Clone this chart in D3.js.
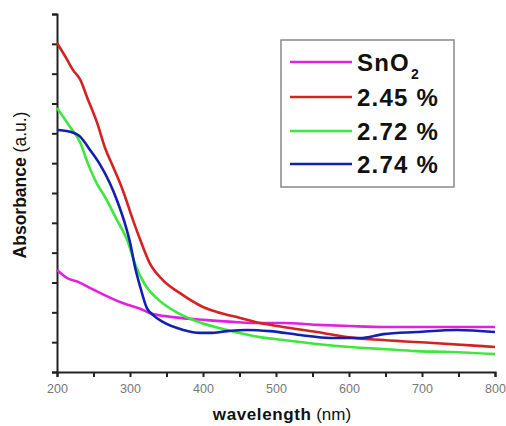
<!DOCTYPE html>
<html><head><meta charset="utf-8">
<script src="https://cdn.jsdelivr.net/npm/d3@7"></script>
<style>body{margin:0;background:#fff;}svg{display:block;}</style>
</head><body>
<svg id="c" width="506" height="426"></svg>
<script>
const seriesNames = ["SnO2", "2.45 %", "2.72 %", "2.74 %"];
const colors = ["#e021e0", "#d42222", "#3ee63e", "#1220b0"];
const xTicks = [200, 300, 400, 500, 600, 700, 800];

const snO2 = [[200,3.42],[214,3.15],[229,3.02],[245,2.82],[259,2.65],[290,2.31],[314,2.12],[327,1.98],[359,1.84],[405,1.74],[441,1.68],[478,1.64],[510,1.64],[556,1.58],[601,1.54],[647,1.51],[738,1.51],[800,1.51]];
const s245 = [[200,11.03],[212,10.55],[222,10.12],[232,9.79],[241,9.22],[255,8.35],[266,7.5],[277,6.87],[290,6.1],[304,5.1],[314,4.43],[327,3.65],[345,3.08],[368,2.65],[400,2.18],[419,2.01],[451,1.81],[478,1.64],[510,1.51],[556,1.34],[597,1.17],[647,1.07],[715,0.97],[800,0.84]];
const s272 = [[200,8.85],[218,8.21],[232,7.68],[242,7.01],[255,6.3],[265,5.9],[282,5.1],[296,4.43],[308,3.55],[320,2.95],[340,2.4],[364,2.0],[396,1.66],[433,1.41],[478,1.17],[510,1.07],[556,0.94],[601,0.84],[647,0.77],[693,0.70],[738,0.67],[800,0.60]];
const s274 = [[200,8.11],[218,8.05],[232,7.88],[245,7.45],[259,6.95],[272,6.35],[283,5.7],[294,4.9],[300,4.35],[307,3.5],[314,2.85],[323,2.15],[332,1.9],[345,1.68],[373,1.41],[396,1.31],[410,1.31],[433,1.37],[460,1.41],[492,1.37],[533,1.24],[574,1.14],[615,1.14],[647,1.27],[693,1.34],[748,1.41],[800,1.34]];
const allSeries = [snO2, s245, s272, s274];

const svg = d3.select("#c");
const x = d3.scaleLinear().domain([200, 800]).range([57, 495]);
const y = d3.scaleLinear().domain([0, 12]).range([372, 14]);

// axes
const xAxis = d3.axisBottom(x).tickValues(d3.range(200, 801, 50)).tickSize(5)
  .tickFormat(d => xTicks.includes(d) ? d : "");
const gx = svg.append("g").attr("transform", "translate(0,372)").call(xAxis);
gx.select(".domain").attr("stroke", "#222").attr("stroke-width", 2);
gx.selectAll(".tick line").attr("stroke", "#222").attr("stroke-width", 2);
gx.selectAll(".tick text").attr("fill", "#777").attr("font-family", "Liberation Sans, Arial, sans-serif")
  .attr("font-size", 12.5).attr("dy", "1.0em");

const yAxis = d3.axisLeft(y).tickValues(d3.range(0, 12.01, 1)).tickSize(5).tickFormat("");
const gy = svg.append("g").attr("transform", "translate(57,0)").call(yAxis);
gy.select(".domain").attr("stroke", "#222").attr("stroke-width", 2);
gy.selectAll(".tick line").attr("stroke", "#222").attr("stroke-width", 2);

// lines
const line = d3.line().x(d => x(d[0])).y(d => y(d[1])).curve(d3.curveMonotoneX);
allSeries.forEach((s, i) => {
  svg.append("path").datum(s).attr("d", line).attr("fill", "none")
    .attr("stroke", colors[i]).attr("stroke-width", 2.6).attr("stroke-linejoin", "round");
});

// axis labels
const xl = svg.append("text").attr("x", 282).attr("y", 420).attr("text-anchor", "middle")
  .attr("font-family", "Liberation Sans, Arial, sans-serif").attr("font-size", 17).attr("fill", "#111");
xl.append("tspan").attr("font-weight", "bold").attr("letter-spacing", 0.6).text("wavelength");
xl.append("tspan").text(" (nm)");

const yl = svg.append("text").attr("transform", "translate(26,185) rotate(-90)").attr("text-anchor", "middle")
  .attr("font-family", "Liberation Sans, Arial, sans-serif").attr("font-size", 17.5).attr("fill", "#111");
yl.append("tspan").attr("font-weight", "bold").text("Absorbance");
yl.append("tspan").text(" (a.u.)");

// legend
const lg = svg.append("g");
lg.append("rect").attr("x", 281).attr("y", 40).attr("width", 173).attr("height", 147)
  .attr("fill", "#fff").attr("stroke", "#888").attr("stroke-width", 1.5);
const rowsY = [62, 97, 131, 164];
seriesNames.forEach((n, i) => {
  lg.append("line").attr("x1", 290).attr("x2", 352).attr("y1", rowsY[i]).attr("y2", rowsY[i])
    .attr("stroke", colors[i]).attr("stroke-width", 2.6);
  const t = lg.append("text").attr("x", 357).attr("y", rowsY[i] + 8.5)
    .attr("font-family", "Liberation Sans, Arial, sans-serif").attr("font-weight", "bold")
    .attr("font-size", 24).attr("letter-spacing", 1.2).attr("fill", "#111");
  if (n === "SnO2") {
    t.append("tspan").text("SnO");
    t.append("tspan").attr("font-size", 14).attr("dy", 8).attr("dx", 1).text("2");
  } else {
    t.text(n);
  }
});
</script>
</body></html>
